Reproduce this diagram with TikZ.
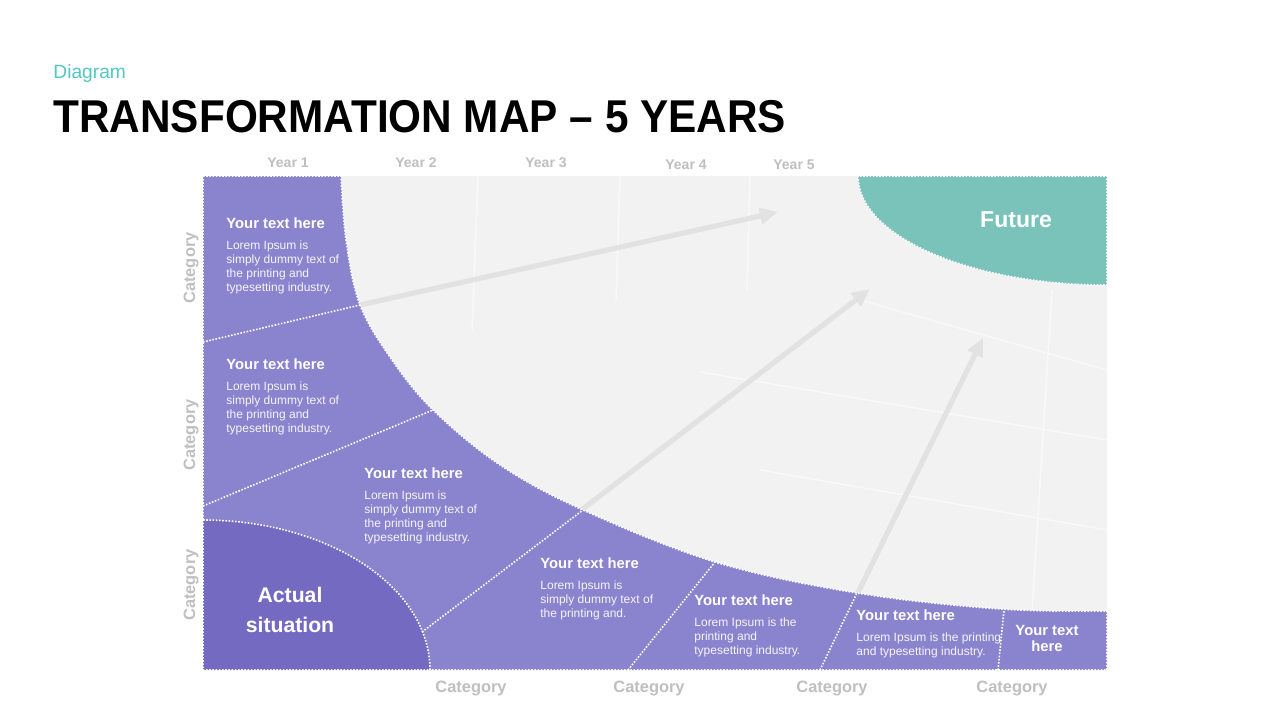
\documentclass[tikz,border=0pt]{standalone}
\usepackage{fontspec}
\setmainfont{Liberation Sans}
\newfontfamily\titlefont[FakeStretch=0.92]{Liberation Sans}
\usetikzlibrary{arrows.meta}
\definecolor{lav}{HTML}{8A83CD}
\definecolor{dlav}{HTML}{746AC2}
\definecolor{tealfut}{HTML}{79C3BA}
\definecolor{bggray}{HTML}{F2F2F2}
\definecolor{gridcol}{HTML}{F8F8F8}
\definecolor{lblgray}{HTML}{BFBFBF}
\definecolor{arrgray}{HTML}{E2E2E2}
\definecolor{diagteal}{HTML}{55C6C2}
\tikzset{
  dots/.style={draw=white, line width=0.8pt, dash pattern=on 0.8pt off 0.8pt},
  gridln/.style={draw=gridcol, line width=0.8pt},
  arr/.style={draw=arrgray, line width=2.6pt, -{Triangle[width=8pt,length=9pt]}},
  head/.style={anchor=north west, inner sep=0, text=white, font=\bfseries\fontsize{7.4}{9}\selectfont},
  body/.style={anchor=north west, inner sep=0, text=white!92!lav, align=left, font=\fontsize{6}{7}\selectfont},
  yearlbl/.style={anchor=base, inner sep=0, text=lblgray, font=\bfseries\fontsize{7}{8}\selectfont},
  catlbl/.style={anchor=base, inner sep=0, text=lblgray, font=\bfseries\fontsize{8.2}{10}\selectfont},
  big/.style={inner sep=0, text=white, align=center, font=\bfseries\fontsize{10.6}{15}\selectfont}
}
\begin{document}
\begin{tikzpicture}[x=0.5pt,y=-0.5pt]
\useasboundingbox[fill=white] (0,0) rectangle (1280,720);

% title
\node[anchor=base west, inner sep=0, text=diagteal, font=\fontsize{9.6}{11}\selectfont] (sub) at (53,78) {Diagram};
\node[anchor=base west, inner sep=0, font=\titlefont\bfseries\fontsize{23}{28}\selectfont] (title) at (53,132) {TRANSFORMATION MAP – 5 YEARS};

% background
\fill[bggray] (203,176) rectangle (1107,670);
% faint grid
\draw[gridln] (478,176) -- (472,330);
\draw[gridln] (620,176) -- (616,300);
\draw[gridln] (750,176) -- (747,290);
\draw[gridln] (1052,290) -- (1032,612);
\draw[gridln] (700,372) -- (1107,440);
\draw[gridln] (760,470) -- (1107,530);
\draw[gridln] (860,300) -- (1107,370);

% key points
\coordinate (c1) at (360,305);
\coordinate (c2) at (433,410);
\coordinate (c3) at (583,510);
\coordinate (c4) at (715,562);
\coordinate (c5) at (857,593);
\coordinate (c6) at (1004,610);
\coordinate (l1) at (203,342);
\coordinate (l2) at (203,506);
\coordinate (s3) at (422,632);
\coordinate (b4) at (628,670);
\coordinate (b5) at (820,670);
\coordinate (b6) at (998,670);
\coordinate (t1) at (778,212);
\coordinate (t2) at (870,289);
\coordinate (t3) at (983,338);

% arrows
\draw[arr] (c1) -- (t1);
\draw[arr] (s3) -- (t2);
\draw[arr] (b5) -- (t3);

% purple region
\path[fill=lav, dots] (203,176) -- (341,176) -- plot[smooth, tension=0.6] coordinates {(341,176) (346,240) (360,305) (392,360) (433,410) (500,465) (583,510) (715,562) (857,593) (1000,609) (1107,611)} -- (1107,670) -- (203,670) -- cycle;
% actual situation
\path[fill=dlav, dots] (203,520) .. controls (328,520) and (430,587) .. (430,670) -- (203,670) -- cycle;
% future
\path[fill=tealfut, dots] (858,176) .. controls (858,236) and (970,285) .. (1107,285) -- (1107,176) -- cycle;

% dividers
\draw[dots] (l1) -- (c1);
\draw[dots] (l2) -- (c2);
\draw[dots] (s3) -- (c3);
\draw[dots] (b4) -- (c4);
\draw[dots] (b5) -- (c5);
\draw[dots] (b6) -- (c6);

% texts
\node[head] (h1) at (226,217) {Your text here};
\node[body] (p1) at (226,240) {Lorem Ipsum is\\simply dummy text of\\the printing and\\typesetting industry.};
\node[head] (h2) at (226,358) {Your text here};
\node[body] (p2) at (226,381) {Lorem Ipsum is\\simply dummy text of\\the printing and\\typesetting industry.};
\node[head] (h3) at (364,467) {Your text here};
\node[body] (p3) at (364,490) {Lorem Ipsum is\\simply dummy text of\\the printing and\\typesetting industry.};
\node[head] (h4) at (540,557) {Your text here};
\node[body] (p4) at (540,580) {Lorem Ipsum is\\simply dummy text of\\the printing and.};
\node[head] (h5) at (694,594) {Your text here};
\node[body] (p5) at (694,617) {Lorem Ipsum is the\\printing and\\typesetting industry.};
\node[head] (h6) at (856,609) {Your text here};
\node[body] (p6) at (856,632) {Lorem Ipsum is the printing\\and typesetting industry.};
\node[head, anchor=center, align=center, font=\bfseries\fontsize{7.4}{8}\selectfont] (h7) at (1047,638) {Your text\\here};

\node[big, font=\bfseries\fontsize{11.5}{14}\selectfont] (fut) at (1016,220) {Future};
\node[big] (act) at (290,610) {Actual\\situation};

% year labels
\node[yearlbl] (y1) at (288,167) {Year 1};
\node[yearlbl] (y2) at (416,167) {Year 2};
\node[yearlbl] (y3) at (546,167) {Year 3};
\node[yearlbl] (y4) at (686,169) {Year 4};
\node[yearlbl] (y5) at (794,169) {Year 5};

% category labels
\node[catlbl] (cb1) at (471,692) {Category};
\node[catlbl] (cb2) at (649,692) {Category};
\node[catlbl] (cb3) at (832,692) {Category};
\node[catlbl] (cb4) at (1012,692) {Category};
\node[catlbl, rotate=90] (cl1) at (195,268) {Category};
\node[catlbl, rotate=90] (cl2) at (195,435) {Category};
\node[catlbl, rotate=90] (cl3) at (195,585) {Category};
\end{tikzpicture}
\end{document}
